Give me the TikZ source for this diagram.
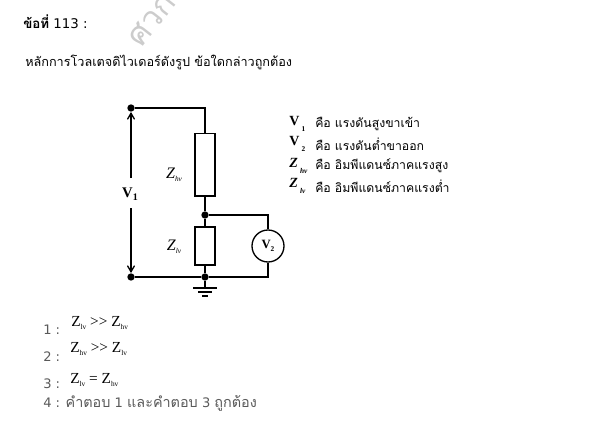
\documentclass[tikz,border=0pt]{standalone}
\usepackage{fontspec}
\setmainfont{DejaVu Sans}
\newfontfamily\thaifont[Script=Thai]{Loma}
\newfontfamily\serifbf{Liberation Serif}
\usetikzlibrary{arrows,calc}
\definecolor{MarkClr}{rgb}{0.80,0.80,0.80}
\definecolor{OptClr}{rgb}{0.35,0.35,0.35}
\newcommand{\subsc}[2]{\raisebox{#1}{\fontsize{5.5}{6}\selectfont #2}}
\tikzset{
  imped/.style={draw,line width=1pt,fill=white,minimum width=15pt,inner sep=0pt},
  junct/.style={circle,fill=black,inner sep=0pt,minimum size=5.5pt},
  wire/.style={line width=1pt},
  th/.style={inner sep=0pt,anchor=west,font=\thaifont\fontsize{9.2}{11}\selectfont},
  sym/.style={inner sep=0pt,font=\serifbf\fontsize{11.5}{12}\selectfont},
  opt/.style={inner sep=0pt,anchor=west,text=OptClr,font=\fontsize{9.8}{11}\selectfont}
}
\begin{document}
\begin{tikzpicture}[x=0.75pt,y=-0.75pt]
\useasboundingbox (0,0) rectangle (597,421);

% watermark
\node[rotate=52,text=MarkClr,inner sep=0pt,font=\thaifont\fontsize{24}{28}\selectfont] (mark) at (152,20) {ศวก};

\node[inner sep=0pt,anchor=west,font=\fontsize{10}{12}\selectfont] (qno) at (23,22) {{\thaifont\bfseries ข้อที่} 113 :};
\node[th,font=\thaifont\fontsize{9.5}{11}\selectfont] (qtext) at (25,62) {หลักการโวลเตจดิไวเดอร์ดังรูป ข้อใดกล่าวถูกต้อง};

% circuit
\node[junct] (tl) at (131,108) {};
\node[junct] (bl) at (131,277) {};
\node[junct] (mid) at (205,215) {};
\node[junct] (bot) at (205,277) {};
\node[imped,minimum height=47pt] (zhv) at (205,164.5) {};
\node[imped,minimum height=28.5pt] (zlv) at (205,246) {};
\node[circle,draw,line width=1pt,minimum size=24pt,inner sep=0pt,font=\serifbf\bfseries\fontsize{9.5}{10}\selectfont] (vtwo) at (268,246) {V\subsc{-2pt}{2}};
\coordinate (gnd) at (205,288);
\coordinate (vup) at (131,178);
\coordinate (vdn) at (131,208);

\draw[wire] (tl) -| (zhv.north);
\draw[wire] (zhv.south) -- (mid);
\draw[wire] (mid) -- (zlv.north);
\draw[wire] (zlv.south) -- (bot);
\draw[wire] (bl) -- (bot);
\draw[wire] (mid) -| (vtwo.north);
\draw[wire] (bot) -| (vtwo.south);
\draw[wire] (bot) -- (gnd);
\draw[wire] ($(gnd)+(-12,0)$) -- ($(gnd)+(12,0)$);
\draw[wire] ($(gnd)+(-7,4)$) -- ($(gnd)+(7,4)$);
\draw[wire] ($(gnd)+(-3,8)$) -- ($(gnd)+(3,8)$);

\node[sym,font=\serifbf\bfseries\fontsize{11}{12}\selectfont] (vone) at (130,194) {V\subsc{-2pt}{\fontsize{7.5}{8}\selectfont 1}};
\draw[wire,->,>=angle 60] (vup) -- (tl);
\draw[wire,->,>=angle 60] (vdn) -- (bl);

\node[sym,font=\serifbf\fontsize{12}{12}\selectfont] (lhv) at (174,175) {\textit{Z}\subsc{-2pt}{\textit{hv}}};
\node[sym,font=\serifbf\fontsize{12}{12}\selectfont] (llv) at (174,247) {\textit{Z}\subsc{-2pt}{\textit{lv}}};

% legend
\foreach \y/\a/\b/\t in {
  124/V/1/คือ แรงดันสูงขาเข้า,
  144/V/2/คือ แรงดันต่ำขาออก,
  166/\textit{Z}/\textit{hv}/คือ อิมพีแดนซ์ภาคแรงสูง,
  186/\textit{Z}/\textit{lv}/คือ อิมพีแดนซ์ภาคแรงต่ำ}{
  \node[sym,anchor=west,font=\serifbf\bfseries\fontsize{10.5}{12}\selectfont] at (289,\y) {\a\,\subsc{-4pt}{\b}};
  \node[th] at (315,\y) {\t};
}

% choices
\node[opt] (one) at (43,330) {1 :};
\node[opt] (two) at (43,357) {2 :};
\node[opt] (three) at (43,384) {3 :};
\node[sym,anchor=west] (aone) at (71,323) {Z\subsc{-2pt}{lv} >{}> Z\subsc{-2pt}{hv}};
\node[sym,anchor=west] (atwo) at (70,349) {Z\subsc{-2pt}{hv} >{}> Z\subsc{-2pt}{lv}};
\node[sym,anchor=west] (athree) at (70,380) {Z\subsc{-2pt}{lv} = Z\subsc{-2pt}{hv}};
\node[opt] (four) at (43,403) {4 : {\thaifont\fontsize{10.8}{11}\selectfont คำตอบ} 1 {\thaifont\fontsize{10.8}{11}\selectfont และคำตอบ} 3 {\thaifont\fontsize{10.8}{11}\selectfont ถูกต้อง}};
\end{tikzpicture}
\end{document}
